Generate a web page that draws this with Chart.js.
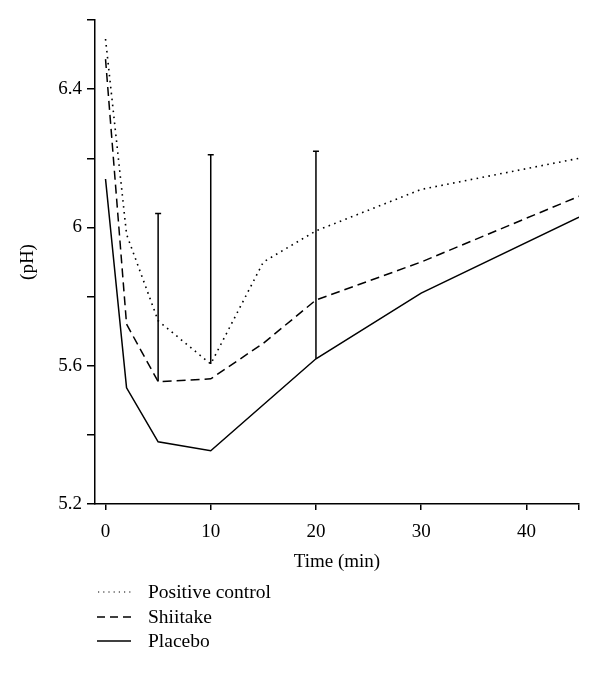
<!DOCTYPE html>
<html>
<head>
<meta charset="utf-8">
<script src="https://cdn.jsdelivr.net/npm/chart.js@4"></script>
<style>
  body { margin: 0; background: #fff; }
  #wrap { position: relative; width: 600px; height: 673px; }
  #legend { position: absolute; left: 97px; top: 580px; font-family: "Liberation Serif", serif; font-size: 19.5px; color: #000; }
  #legend div { height: 24.5px; display: flex; align-items: center; }
  #legend svg { width: 34px; height: 10px; margin-right: 17px; }
</style>
</head>
<body>
<div id="wrap">
  <canvas id="myChart" width="600" height="673"></canvas>
  <div id="legend">
    <div><svg><line x1="1" y1="5" x2="34" y2="5" stroke="#000" stroke-width="1.2" stroke-dasharray="1.2,4"/></svg>Positive control</div>
    <div><svg><line x1="0" y1="5" x2="34" y2="5" stroke="#000" stroke-width="1.5" stroke-dasharray="8,5"/></svg>Shiitake</div>
    <div><svg><line x1="0" y1="5" x2="34" y2="5" stroke="#000" stroke-width="1.5"/></svg>Placebo</div>
  </div>
</div>
<script>
const times = [0, 2, 5, 10, 15, 20, 30, 45];
const positiveControl = [6.545, 5.98, 5.73, 5.605, 5.90, 5.99, 6.11, 6.20];
const shiitake = [6.487, 5.72, 5.554, 5.562, 5.665, 5.79, 5.90, 6.09];
const placebo = [6.14, 5.536, 5.38, 5.354, 5.487, 5.62, 5.81, 6.03];

// error bars: start and end of each vertical bar
const errTimes = [5, 10, 20];
const errLow = [5.554, 5.605, 5.62];
const errHigh = [6.04, 6.21, 6.22];

const xTicks = [0, 10, 20, 30, 40, 45];
const yTicks = [5.2, 5.4, 5.6, 5.8, 6.0, 6.2, 6.4, 6.6];
const yLabels = [5.2, 5.6, 6.0, 6.4];

const font = { family: "'Liberation Serif', serif", size: 19 };

let pts = (ys) => times.map((t, i) => ({ x: t, y: ys[i] }));

const errorBars = {
    id: 'errorBars',
    afterDatasetsDraw(chart) {
        const ctx = chart.ctx;
        const xs = chart.scales.x, ys = chart.scales.y;
        ctx.save();
        ctx.strokeStyle = '#000';
        ctx.lineWidth = 1.5;
        errTimes.forEach((t, i) => {
            const px = xs.getPixelForValue(t);
            const y0 = ys.getPixelForValue(errLow[i]);
            const y1 = ys.getPixelForValue(errHigh[i]);
            ctx.beginPath();
            ctx.moveTo(px, y0);
            ctx.lineTo(px, y1);
            ctx.moveTo(px - 3, y1);
            ctx.lineTo(px + 3, y1);
            ctx.stroke();
        });
        ctx.restore();
    }
};

const ctx = document.getElementById('myChart').getContext('2d');
new Chart(ctx, {
    type: 'line',
    data: {
        datasets: [
            { label: 'Positive control', data: pts(positiveControl), borderColor: '#000', borderWidth: 1.6, borderDash: [1.6, 4.4], pointRadius: 0 },
            { label: 'Shiitake', data: pts(shiitake), borderColor: '#000', borderWidth: 1.5, borderDash: [9, 5], pointRadius: 0 },
            { label: 'Placebo', data: pts(placebo), borderColor: '#000', borderWidth: 1.5, pointRadius: 0 },
        ],
    },
    options: {
        responsive: false,
        animation: false,
        layout: { padding: { top: 20, right: 21, left: 0, bottom: 100 } },
        scales: {
            x: {
                type: 'linear',
                min: -1,
                max: 45,
                afterBuildTicks: s => { s.ticks = xTicks.map(v => ({ value: v })); },
                afterFit: s => { s.height = 69; },
                ticks: {
                    color: '#000', font: font, padding: 11, maxRotation: 0,
                    callback: v => (v === 45 ? '' : String(v)),
                },
                grid: { display: true, drawOnChartArea: false, drawTicks: true, tickLength: 6, color: '#000', lineWidth: 1.5 },
                border: { display: true, color: '#000', width: 1.5 },
                title: { display: true, text: 'Time (min)', color: '#000', font: font, padding: { top: -1, bottom: 0 } },
            },
            y: {
                min: 5.2,
                max: 6.6,
                afterBuildTicks: s => { s.ticks = yTicks.map(v => ({ value: v })); },
                afterFit: s => { s.width = 95; },
                ticks: {
                    color: '#000', font: font, padding: 5,
                    callback: v => {
                        const r = Number(v.toFixed(1));
                        return yLabels.some(l => Math.abs(l - r) < 1e-6) ? String(r) : '';
                    },
                },
                grid: { display: true, drawOnChartArea: false, drawTicks: true, tickLength: 8, color: '#000', lineWidth: 1.5 },
                border: { display: true, color: '#000', width: 1.5 },
                title: { display: true, text: '(pH)', color: '#000', font: font, padding: { top: 17, bottom: 0 } },
            },
        },
        plugins: {
            legend: { display: false },
            tooltip: { enabled: false },
        },
    },
    plugins: [errorBars],
});
</script>
</body>
</html>
